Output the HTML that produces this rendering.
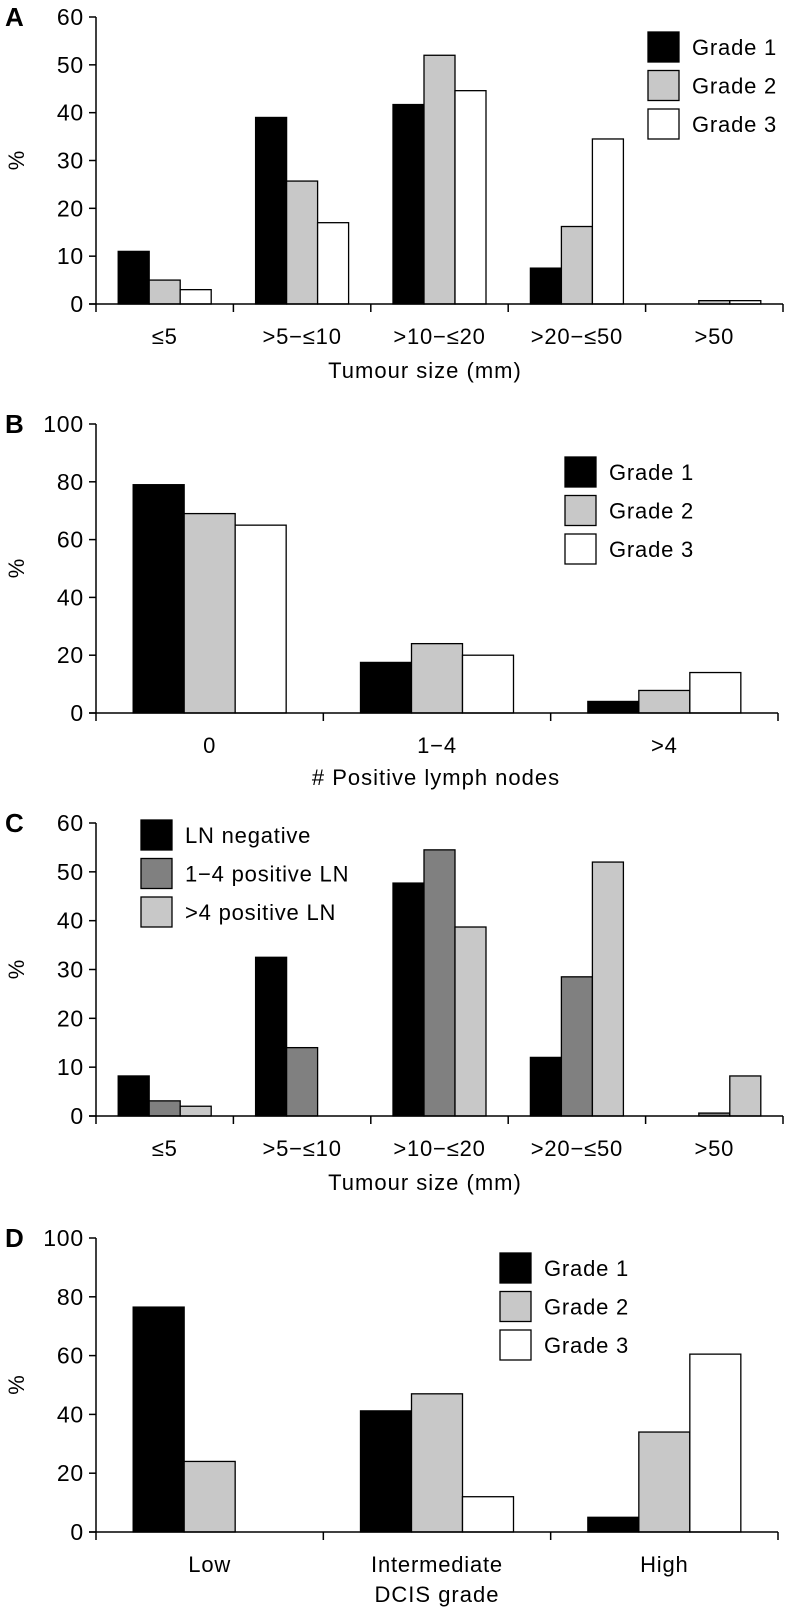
<!DOCTYPE html>
<html><head><meta charset="utf-8"><style>
html,body{margin:0;padding:0;background:#fff;width:786px;height:1610px;overflow:hidden}
svg{display:block;font-family:"Liberation Sans",Arial,sans-serif}
</style></head><body>
<svg id="fig" width="786" height="1610" viewBox="0 0 786 1610" xmlns="http://www.w3.org/2000/svg"></svg>
<script>
// Panel A
const aCats = ["≤5", ">5−≤10", ">10−≤20", ">20−≤50", ">50"];
const aG1 = [11, 39, 41.7, 7.5, 0];
const aG2 = [5, 25.7, 52, 16.2, 0.7];
const aG3 = [3, 17, 44.6, 34.5, 0.7];
const aTicks = [0, 10, 20, 30, 40, 50, 60];
// Panel B
const bCats = ["0", "1−4", ">4"];
const bG1 = [79, 17.5, 4];
const bG2 = [69, 24, 7.8];
const bG3 = [65, 20, 14];
const bTicks = [0, 20, 40, 60, 80, 100];
// Panel C
const cCats = ["≤5", ">5−≤10", ">10−≤20", ">20−≤50", ">50"];
const cNeg = [8.2, 32.5, 47.7, 12, 0];
const c14 = [3.1, 14, 54.5, 28.5, 0.6];
const c4p = [2, 0, 38.7, 52, 8.2];
const cTicks = [0, 10, 20, 30, 40, 50, 60];
// Panel D
const dCats = ["Low", "Intermediate", "High"];
const dG1 = [76.5, 41.2, 5];
const dG2 = [24, 47, 34];
const dG3 = [0, 12, 60.5];
const dTicks = [0, 20, 40, 60, 80, 100];

const svg = document.getElementById('fig');
const NS = "http://www.w3.org/2000/svg";
function mk(tag, attrs, parent, text) {
  const e = document.createElementNS(NS, tag);
  for (const k in attrs) e.setAttribute(k, attrs[k]);
  if (text !== undefined) e.textContent = text;
  (parent || svg).appendChild(e);
  return e;
}

function panel(cfg) {
  const g = mk('g', {});
  
  
  const x0 = 96, x1 = cfg.xEnd, yTop = cfg.yTop, yBot = cfg.yBot, vmax = cfg.vmax;
  const y = v => yBot - (v / vmax) * (yBot - yTop);
  const cw = (x1 - x0) / cfg.cats.length;
  const pl = mk('text', {x: 5, y: yTop + 9, 'font-size': 26, 'font-weight': 'bold'}, g, cfg.id);
  
  
  const ya = mk('line', {x1: x0, y1: yTop, x2: x0, y2: yBot, stroke: '#000', 'stroke-width': 1.5}, g);
  
  
  cfg.ticks.forEach(t => {
    mk('line', {x1: x0 - 7, y1: y(t), x2: x0, y2: y(t), stroke: '#000', 'stroke-width': 1.5}, g);
    const tl = mk('text', {x: x0 - 12, y: y(t) + 8, 'font-size': 23, 'letter-spacing': 0.8, 'text-anchor': 'end'}, g, t);
    
    
  });
  const yt = mk('text', {x: 0, y: 0, 'font-size': 22, 'text-anchor': 'middle', transform: `translate(24,${(yTop + yBot) / 2}) rotate(-90)`}, g, '%');
  
  
  const bw = cfg.bw;
  cfg.series.forEach((s, si) => {
    s.vals.forEach((v, ci) => {
      if (v <= 0) return;
      const gx = x0 + cw * ci + cw / 2 - bw * 1.5 + bw * si;
      const r = mk('rect', {x: gx, y: y(v), width: bw, height: yBot - y(v), fill: s.fill, stroke: '#000', 'stroke-width': 1.3}, g);
      
      
    });
  });
  const xa = mk('line', {x1: x0 - 7, y1: yBot, x2: x1, y2: yBot, stroke: '#000', 'stroke-width': 1.5}, g);
  
  
  for (let i = 0; i <= cfg.cats.length; i++) {
    mk('line', {x1: x0 + cw * i, y1: yBot, x2: x0 + cw * i, y2: yBot + 8, stroke: '#000', 'stroke-width': 1.5}, g);
  }
  cfg.cats.forEach((c, i) => {
    const xl = mk('text', {x: x0 + cw * i + cw / 2, y: yBot + 40, 'font-size': 22, 'letter-spacing': 0.8, 'text-anchor': 'middle'}, g, c);
    
    
  });
  const xt = mk('text', {x: cfg.titleX, y: yBot + cfg.titleDy, 'font-size': 22, 'letter-spacing': 1, 'text-anchor': 'middle'}, g, cfg.title);
  
  
  cfg.series.forEach((s, si) => {
    const ly = cfg.legY + si * 38.5;
    const lb = mk('rect', {x: cfg.legX, y: ly, width: 31, height: 30, fill: s.fill, stroke: '#000', 'stroke-width': 1.3}, g);
    
    
    const lt = mk('text', {x: cfg.legX + 44, y: ly + 23, 'font-size': 22, 'letter-spacing': 0.8}, g, s.name);
    
    
  });
}

panel({id: 'A', cats: aCats, ticks: aTicks, vmax: 60, yTop: 17, yBot: 304, xEnd: 783, bw: 31,
  series: [{key: 'grade1', name: 'Grade 1', vals: aG1, fill: '#000'},
           {key: 'grade2', name: 'Grade 2', vals: aG2, fill: '#c8c8c8'},
           {key: 'grade3', name: 'Grade 3', vals: aG3, fill: '#fff'}],
  title: 'Tumour size (mm)', titleX: 425, titleDy: 74, legX: 648, legY: 32});
panel({id: 'B', cats: bCats, ticks: bTicks, vmax: 100, yTop: 424, yBot: 713, xEnd: 778, bw: 51,
  series: [{key: 'grade1', name: 'Grade 1', vals: bG1, fill: '#000'},
           {key: 'grade2', name: 'Grade 2', vals: bG2, fill: '#c8c8c8'},
           {key: 'grade3', name: 'Grade 3', vals: bG3, fill: '#fff'}],
  title: '# Positive lymph nodes', titleX: 436, titleDy: 72, legX: 565, legY: 457});
panel({id: 'C', cats: cCats, ticks: cTicks, vmax: 60, yTop: 823, yBot: 1116, xEnd: 783, bw: 31,
  series: [{key: 'ln-negative', name: 'LN negative', vals: cNeg, fill: '#000'},
           {key: 'ln-1-4', name: '1−4 positive LN', vals: c14, fill: '#808080'},
           {key: 'ln-gt4', name: '>4 positive LN', vals: c4p, fill: '#c8c8c8'}],
  title: 'Tumour size (mm)', titleX: 425, titleDy: 74, legX: 141, legY: 820});
panel({id: 'D', cats: dCats, ticks: dTicks, vmax: 100, yTop: 1238, yBot: 1532, xEnd: 778, bw: 51,
  series: [{key: 'grade1', name: 'Grade 1', vals: dG1, fill: '#000'},
           {key: 'grade2', name: 'Grade 2', vals: dG2, fill: '#c8c8c8'},
           {key: 'grade3', name: 'Grade 3', vals: dG3, fill: '#fff'}],
  title: 'DCIS grade', titleX: 437, titleDy: 70, legX: 500, legY: 1253});
</script>
</body></html>
